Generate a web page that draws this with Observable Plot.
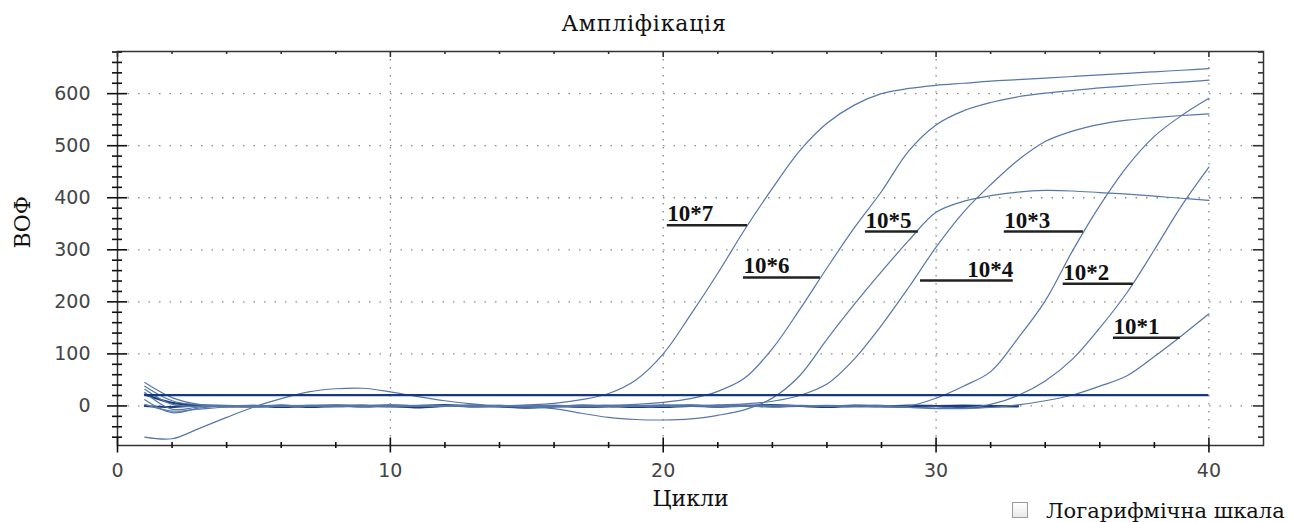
<!DOCTYPE html>
<html><head><meta charset="utf-8">
<script src="https://cdn.jsdelivr.net/npm/d3@7"></script>
<script src="https://cdn.jsdelivr.net/npm/@observablehq/plot@0.6"></script>
<style>
html,body{margin:0;padding:0;background:#fff;overflow:hidden;width:1293px;height:522px}
#wrap{position:relative;width:1293px;height:522px}
#title{position:relative;height:40px}
#title span{position:absolute;left:0;width:1288px;text-align:center;top:13px;font:22px/22px "DejaVu Serif";letter-spacing:0.8px;color:#111}
#chart svg{display:block}
#legend{position:absolute;left:1012px;top:499px;height:24px;white-space:nowrap}
#legend .box{position:absolute;left:0;top:3px;width:14px;height:14px;border:1px solid #9a9a9a;background:linear-gradient(#ffffff,#e9e9e9)}
#legend .txt{position:absolute;left:34px;top:1px;font:21px/22px "DejaVu Serif";color:#111}
</style></head>
<body><div id="wrap">
<div id="title"><span>Ампліфікація</span></div>
<div id="chart"></div>
<div id="legend"><span class="box"></span><span class="txt">Логарифмічна шкала</span></div>
</div>
<script>
// ---- data ----
const cycles = [1,2,3,4,5,6,7,8,9,10,11,12,13,14,15,16,17,18,19,20,21,22,23,24,25,26,27,28,29,30,31,32,33,34,35,36,37,38,39,40];
const seriesNames = ["10*7","10*6","10*5","10*4","10*3","10*2","10*1"];
const s107 = [45,16,3,1,0,-1,1,0,-2,0,1,0,-1,0,2,5,12,24,50,100,175,255,340,418,490,543,578,600,610,616,620,624,627,630,633,636,639,642,645,648];
const s106 = [38,10,2,0,1,0,-1,0,1,0,-1,0,-2,-1,0,1,0,1,3,7,14,28,54,110,185,265,342,412,490,540,567,583,594,601,606,611,615,619,622,626];
const s105 = [-60,-63,-43,-22,-2,14,27,33,34,27,18,10,4,0,-2,-5,-14,-22,-26,-27,-25,-18,-7,15,58,128,195,258,318,372,393,404,411,414,413,410,407,403,399,395];
const s104 = [32,3,-1,0,-2,0,1,-1,0,2,0,-1,0,1,-1,0,-2,-1,0,1,0,2,4,9,20,42,90,155,228,305,372,425,472,508,528,541,549,554,558,561];
const s103 = [26,-6,-2,0,1,-1,0,2,0,-1,0,1,0,-2,0,1,0,-1,0,2,0,-1,0,1,0,-1,0,1,0,15,38,66,130,202,298,385,460,518,558,591];
const s102 = [12,-13,-4,0,-1,1,0,-2,0,1,0,-1,1,0,-2,0,1,0,-1,0,2,0,-1,0,1,0,-2,-1,-3,-2,-4,3,20,48,90,150,218,300,385,459];
const s101 = [3,-10,-6,-2,0,1,0,-1,0,2,0,-1,0,1,0,-2,0,1,0,-1,0,1,0,-2,0,1,0,-1,-3,-5,-5,-3,2,10,21,38,58,95,135,177];
const ampValues = [s107, s106, s105, s104, s103, s102, s101];

const ntcNames = ["K-1","K-2"];
const ntc1 = [22,6,1,0,-1,1,-2,0,1,-1,0,2,-1,0,-3,-1,1,0,-2,0,1,-1,0,2,0,-1,1,0,-2,0,1,0,-1];
const ntc2 = [0,-2,1,-1,0,-2,0,1,-1,0,-3,0,1,-1,-3,0,-2,-1,0,-2,0,-1,1,-1,0,-2,0,-1,1,0,-2,-1,0];
const ntcValues = [ntc1, ntc2];

const threshold = 20.6;
const thresholdFrom = 1, thresholdTo = 40;

// annotation labels (cycle / value units)
const labelNames = ["10*7","10*6","10*5","10*4","10*3","10*2","10*1"];
const labelValue = [347, 247, 335, 241, 335, 235, 131];
const labelFrom  = [20.15, 22.94, 27.41, 29.43, 32.5, 34.66, 36.5];
const labelTo    = [23.09, 25.76, 29.35, 32.83, 35.4, 37.23, 38.95];
const labelAlign = ["start","start","start","end","start","start","start"];

// axes
const xDomain = [0, 42];
const yDomain = [-76, 681];
const xTickLabels = [0, 10, 20, 30, 40];
const xMinorTicks = [2,4,6,8,12,14,16,18,22,24,26,28,32,34,36,38];
const yTickLabels = [0, 100, 200, 300, 400, 500, 600];
const yMinorTicks = [-60,-40,-20,20,40,60,80,120,140,160,180,220,240,260,280,320,340,360,380,420,440,460,480,520,540,560,580,620,640,660,680];
const xGrid = [10, 20, 30, 40];
const yGrid = [0, 100, 200, 300, 400, 500, 600];

// ---- build tables ----
const amp = [];
seriesNames.forEach((n, k) => ampValues[k].forEach((v, i) => amp.push({series: n, cycle: cycles[i], value: v})));
const ntc = [];
ntcNames.forEach((n, k) => ntcValues[k].forEach((v, i) => ntc.push({series: n, cycle: cycles[i], value: v})));
const labels = labelNames.map((t, i) => ({text: t, value: labelValue[i], from: labelFrom[i], to: labelTo[i], align: labelAlign[i]}));

const tickStroke = "#111";
const labelFont = {fontFamily: "Liberation Serif", fontSize: 23, fontWeight: "bold", fill: "#111"};

const chart = Plot.plot({
  width: 1293, height: 482,
  marginLeft: 117, marginRight: 30, marginTop: 11, marginBottom: 77,
  x: {domain: xDomain},
  y: {domain: yDomain},
  style: {fontFamily: "DejaVu Sans", fontSize: "19px", color: "#444", background: "white", overflow: "visible"},
  marks: [
    Plot.ruleY(yGrid, {y: d => d, stroke: "#8a8a8a", strokeWidth: 1.3, strokeDasharray: "1.5,9"}),
    Plot.ruleX(xGrid, {x: d => d, stroke: "#8a8a8a", strokeWidth: 1.3, strokeDasharray: "1.5,6.5"}),
    Plot.line(ntc, {x: "cycle", y: "value", z: "series", stroke: "#1d3c7c", strokeWidth: 2, curve: "catmull-rom"}),
    Plot.line(amp, {x: "cycle", y: "value", z: "series", stroke: "#5677a8", strokeWidth: 1.2, curve: "catmull-rom"}),
    Plot.ruleY([threshold], {y: d => d, x1: thresholdFrom, x2: thresholdTo, stroke: "#163880", strokeWidth: 2.2}),
    Plot.frame({stroke: "#333", strokeWidth: 1.5}),
    // left axis ticks (crossing)
    Plot.ruleY(yTickLabels, {y: d => d, x1: xDomain[0], x2: xDomain[0], insetLeft: -10, insetRight: -10, stroke: tickStroke, strokeWidth: 1.6}),
    Plot.ruleY(yMinorTicks, {y: d => d, x1: xDomain[0], x2: xDomain[0], insetLeft: -5, insetRight: -5, stroke: tickStroke, strokeWidth: 1.6}),
    // right axis ticks (inward)
    Plot.ruleY(yTickLabels, {y: d => d, x1: xDomain[1], x2: xDomain[1], insetLeft: -10, insetRight: 0, stroke: "#333", strokeWidth: 1.6}),
    Plot.ruleY(yMinorTicks, {y: d => d, x1: xDomain[1], x2: xDomain[1], insetLeft: -5, insetRight: 0, stroke: "#333", strokeWidth: 1.6}),
    // bottom ticks (crossing)
    Plot.ruleX(xTickLabels, {x: d => d, y1: yDomain[0], y2: yDomain[0], insetTop: -7.5, insetBottom: -7.5, stroke: tickStroke, strokeWidth: 1.6}),
    Plot.ruleX(xMinorTicks, {x: d => d, y1: yDomain[0], y2: yDomain[0], insetTop: -3, insetBottom: -3, stroke: tickStroke, strokeWidth: 1.6}),
    // top ticks (inward)
    Plot.ruleX(xTickLabels, {x: d => d, y1: yDomain[1], y2: yDomain[1], insetTop: 0, insetBottom: -6, stroke: "#333", strokeWidth: 1.6}),
    Plot.ruleX(xMinorTicks, {x: d => d, y1: yDomain[1], y2: yDomain[1], insetTop: 0, insetBottom: -3, stroke: "#333", strokeWidth: 1.6}),
    // tick labels
    Plot.axisX(xTickLabels, {tickSize: 0, tickPadding: 18, label: null}),
    Plot.axisY(yTickLabels, {tickSize: 0, tickPadding: 27, label: null}),
    // axis titles
    Plot.text(["Цикли"], {frameAnchor: "bottom", dy: 53, lineAnchor: "middle", fontFamily: "DejaVu Serif", fontSize: 22, fill: "#111"}),
    Plot.text(["ВОФ"], {frameAnchor: "left", dx: -95, rotate: -90, lineAnchor: "middle", fontFamily: "DejaVu Serif", fontSize: 22, fill: "#111"}),
    // annotations
    Plot.ruleY(labels, {y: "value", x1: "from", x2: "to", stroke: "#222", strokeWidth: 2.5}),
    Plot.text(labels.filter(d => d.align === "start"), {x: "from", y: "value", text: "text", textAnchor: "start", lineAnchor: "bottom", dy: -4, ...labelFont}),
    Plot.text(labels.filter(d => d.align === "end"), {x: "to", y: "value", text: "text", textAnchor: "end", lineAnchor: "bottom", dy: -4, ...labelFont})
  ]
});
document.getElementById("chart").appendChild(chart);
</script>
</body></html>
